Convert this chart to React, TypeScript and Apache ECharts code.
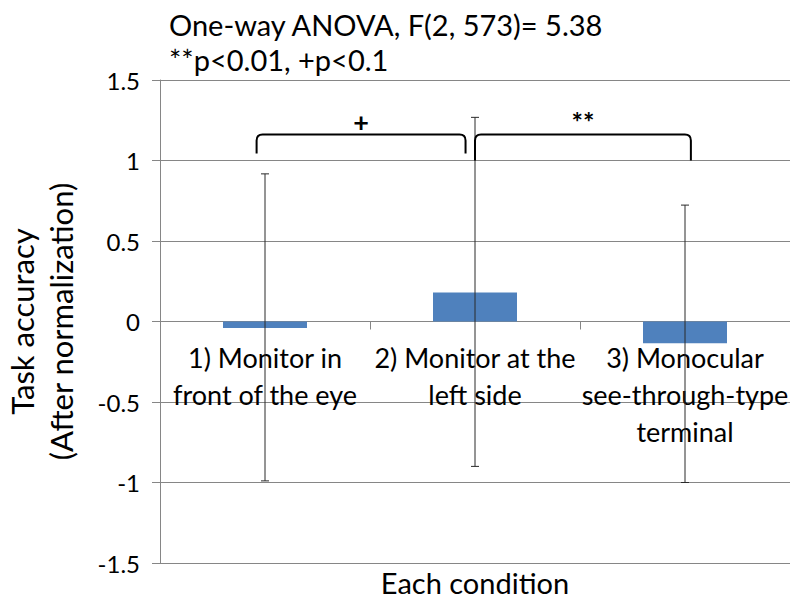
import React, { useEffect, useRef } from "react";
import * as echarts from "echarts";

const categories = [
  "1) Monitor in\nfront of the eye",
  "2) Monitor at the\nleft side",
  "3) Monocular\nsee-through-type\nterminal",
];
const means = [-0.04, 0.18, -0.135];
const errLow = [-0.99, -0.9, -1.0];
const errHigh = [0.917, 1.268, 0.723];
// bracket: [fromCategory, toCategory, topValue, leftLegEnd, rightLegEnd]
const brackets = [
  [0, 1, 1.161, 1.043, 1.043],
  [1, 2, 1.161, 1.0, 1.0],
];
const bracketOffsets = [
  [-0.04, -0.045],
  [0.0, 0.028],
];
const bracketLabels = ["+", "**"];
const titleLines = ["One-way ANOVA, F(2, 573)= 5.38", "**p<0.01, +p<0.1"];
const yName = "Task accuracy\n(After normalization)";
const xName = "Each condition";

const FONT = "Lato";

export default function App() {
  const ref = useRef<HTMLDivElement>(null);
  useEffect(() => {
    const chart = echarts.init(ref.current!, null, { renderer: "svg" });
    const errData = categories.map((_, i) => [i, errLow[i], errHigh[i]]);
    const brData = brackets.map((b, i) => [...b, i]);
    const labelData = categories.map((_, i) => [i, 0]);
    chart.setOption({
      animation: false,
      backgroundColor: "#ffffff",
      textStyle: { fontFamily: FONT },
      title: {
        text: titleLines.join("\n"),
        left: 164,
        top: 2,
        textStyle: { fontFamily: FONT, fontSize: 29, fontWeight: "normal", color: "#000", lineHeight: 35 },
      },
      grid: { left: 160, right: 0, top: 80, bottom: 37, containLabel: false, outerBoundsMode: "none" },
      xAxis: {
        type: "category",
        data: categories,
        axisLine: { onZero: true, lineStyle: { color: "#868686", width: 1 } },
        axisTick: { show: true, length: 8, lineStyle: { color: "#868686" } },
        axisLabel: { show: false },
        splitLine: { show: false },
      },
      yAxis: {
        type: "value",
        min: -1.5,
        max: 1.5,
        interval: 0.5,
        name: yName,
        nameLocation: "middle",
        nameRotate: 90,
        nameGap: 80,
        nameTextStyle: { color: "#000", fontFamily: FONT, fontSize: 31, lineHeight: 39 },
        axisLine: { show: true, lineStyle: { color: "#868686", width: 1 } },
        axisTick: { show: true, length: 8, lineStyle: { color: "#868686" } },
        axisLabel: { color: "#000", fontFamily: FONT, fontSize: 24, margin: 20 },
        splitLine: { show: true, lineStyle: { color: "#868686", width: 1 } },
      },
      series: [
        {
          type: "bar",
          data: means,
          barWidth: "40%",
          itemStyle: { color: "#4F81BD" },
          z: 2,
        },
        {
          type: "custom",
          data: labelData,
          encode: { x: 0, y: 1 },
          z: 4,
          clip: false,
          silent: true,
          renderItem: (params: any, api: any) => {
            const p = api.coord([api.value(0), api.value(1)]);
            return {
              type: "text",
              x: p[0],
              y: p[1] + 17,
              style: {
                text: categories[params.dataIndex],
                fontFamily: FONT,
                fontSize: 27,
                lineHeight: 37,
                fill: "#000",
                align: "center",
                verticalAlign: "top",
              },
            };
          },
        },
        {
          type: "custom",
          data: errData,
          encode: { x: 0, y: [1, 2] },
          z: 5,
          renderItem: (params: any, api: any) => {
            const lo = api.coord([api.value(0), api.value(1)]);
            const hi = api.coord([api.value(0), api.value(2)]);
            const hw = 4;
            const style = { stroke: "#2a2a2a", lineWidth: 1 };
            return {
              type: "group",
              children: [
                { type: "line", shape: { x1: hi[0], y1: hi[1], x2: lo[0], y2: lo[1] }, style },
                { type: "line", shape: { x1: hi[0] - hw, y1: hi[1], x2: hi[0] + hw, y2: hi[1] }, style },
                { type: "line", shape: { x1: lo[0] - hw, y1: lo[1], x2: lo[0] + hw, y2: lo[1] }, style },
              ],
            };
          },
        },
        {
          type: "custom",
          data: brData,
          encode: { x: 0, y: 2 },
          z: 6,
          clip: false,
          renderItem: (params: any, api: any) => {
            const idx = api.value(5);
            const bw = api.size([1, 0])[0];
            const p1 = api.coord([api.value(0), api.value(2)]);
            const p2 = api.coord([api.value(1), api.value(2)]);
            const x1 = p1[0] + bracketOffsets[idx][0] * bw;
            const x2 = p2[0] + bracketOffsets[idx][1] * bw;
            const yTop = p1[1];
            const yL = api.coord([api.value(0), api.value(3)])[1];
            const yR = api.coord([api.value(1), api.value(4)])[1];
            const r = 6;
            const d = `M${x1} ${yL} L${x1} ${yTop + r} Q${x1} ${yTop} ${x1 + r} ${yTop} L${x2 - r} ${yTop} Q${x2} ${yTop} ${x2} ${yTop + r} L${x2} ${yR}`;
            return {
              type: "group",
              children: [
                {
                  type: "path",
                  shape: { pathData: d },
                  style: { stroke: "#000", lineWidth: 2, fill: "none" },
                },
                {
                  type: "text",
                  x: (x1 + x2) / 2,
                  y: yTop - 13,
                  style: {
                    text: bracketLabels[idx],
                    fontFamily: FONT,
                    fontSize: 27,
                    fontWeight: "bold",
                    fill: "#000",
                    align: "center",
                    verticalAlign: "middle",
                  },
                },
              ],
            };
          },
        },
      ],
      graphic: [
        {
          type: "text",
          x: 475,
          y: 582,
          style: {
            text: xName,
            fontFamily: FONT,
            fontSize: 29,
            fill: "#000",
            align: "center",
            verticalAlign: "middle",
          },
        },
      ],
    });
    return () => chart.dispose();
  }, []);
  return (
    <div
      ref={ref}
      style={{ position: "fixed", left: 0, top: 0, width: 790, height: 600 }}
    />
  );
}
